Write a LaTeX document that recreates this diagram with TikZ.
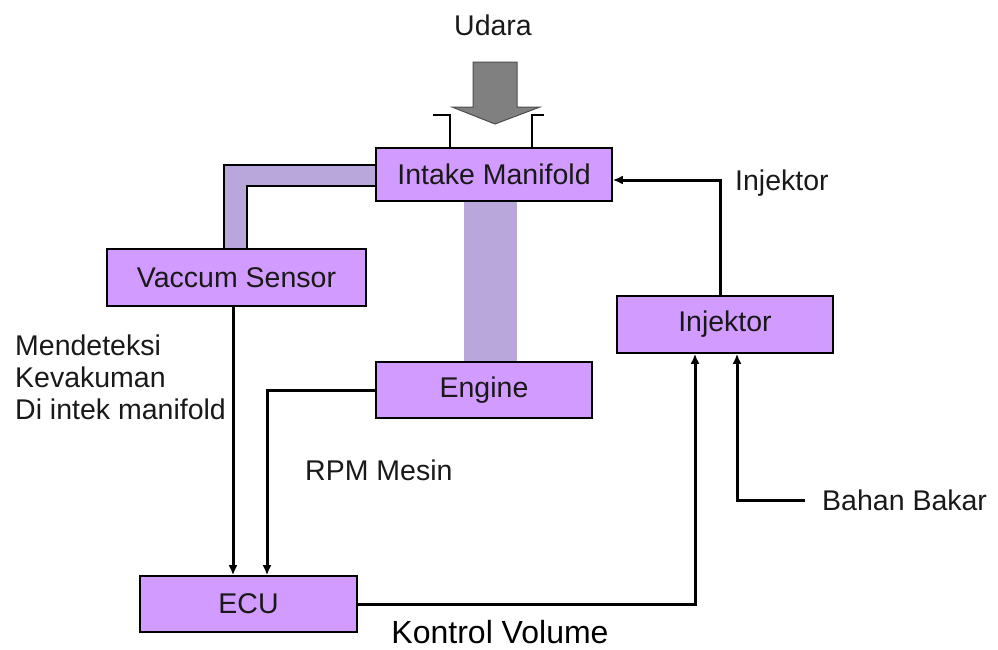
\documentclass[tikz,border=0pt]{standalone}
\usepackage{fontspec}
\setmainfont{Liberation Sans}
\usetikzlibrary{arrows.meta,calc}
\definecolor{boxfill}{RGB}{210,155,255}
\definecolor{tube}{RGB}{185,167,220}
\definecolor{arrgray}{RGB}{128,128,128}
\definecolor{txt}{RGB}{25,25,25}
\tikzset{
  blk/.style={draw=black,line width=1.6pt,fill=boxfill,rectangle,inner sep=0pt,
    font=\fontsize{28.5}{32}\selectfont,text=txt},
  conn/.style={line width=3pt,black},
  arr/.style={conn,-{Latex[length=10pt,width=9pt]}},
  lbl/.style={font=\fontsize{28.5}{32}\selectfont,inner sep=0pt,text=txt}
}
\begin{document}
\begin{tikzpicture}[x=1pt,y=-1pt]
\useasboundingbox (0,0) rectangle (998,649);
% tubes
\fill[tube] (376,165) -- (224,165) -- (224,249) -- (247,249) -- (247,186) -- (376,186) -- cycle;
\draw[line width=1.6pt] (376,165) -- (224,165) -- (224,249);
\draw[line width=1.6pt] (247,249) -- (247,186) -- (376,186);
\fill[tube] (464,201) rectangle (517,362);
% boxes
\node[blk,minimum width=236pt,minimum height=53pt] (intake) at (494,174.5) {Intake Manifold};
\node[blk,minimum width=259pt,minimum height=57pt] (vac) at (236.5,277.5) {Vaccum Sensor};
\node[blk,minimum width=216pt,minimum height=56pt] (eng) at (484,390) {Engine};
\node[blk,minimum width=216pt,minimum height=57pt] (inj) at (725,324.5) {Injektor};
\node[blk,minimum width=217pt,minimum height=56pt] (ecu) at (248.5,604) {ECU};
% intake pipe edges
\draw[line width=1.6pt] (433,115) -- (450,115) -- (450,148);
\draw[line width=1.6pt] (544,115) -- (532,115) -- (532,148);
% big air arrow
\draw[fill=arrgray,draw=black!70,line width=1pt] (473,62) -- (517,62) -- (517,107) -- (540,107) -- (495,124) -- (452,107) -- (473,107) -- cycle;
% labels
\node[lbl] (udara) at (493,25) {Udara};
\node[lbl,anchor=west,align=left] (mend) at (15,377) {Mendeteksi\\Kevakuman\\Di intek manifold};
\node[lbl,anchor=west] (rpm) at (305,470) {RPM Mesin};
\node[lbl,anchor=west] (injl) at (735,183) {Injektor};
\node[lbl,anchor=west] (bb) at (822,500) {Bahan Bakar};
\node[font=\fontsize{32}{34}\selectfont,inner sep=0pt] (kv) at (500,632) {Kontrol Volume};
\coordinate (bbstart) at (805,500);
% connectors
\draw[arr] ([xshift=-3.5pt]vac.south) -- ([xshift=-15.5pt]ecu.north);
\draw[arr] (eng.west) -| ([xshift=18.5pt]ecu.north);
\draw[arr] (ecu.east) -| ([xshift=-30pt]inj.south);
\draw[arr] (bbstart) -| ([xshift=12pt]inj.south);
\draw[arr] ([xshift=-5pt]inj.north) |- ([yshift=-5.5pt]intake.east);
\end{tikzpicture}
\end{document}
